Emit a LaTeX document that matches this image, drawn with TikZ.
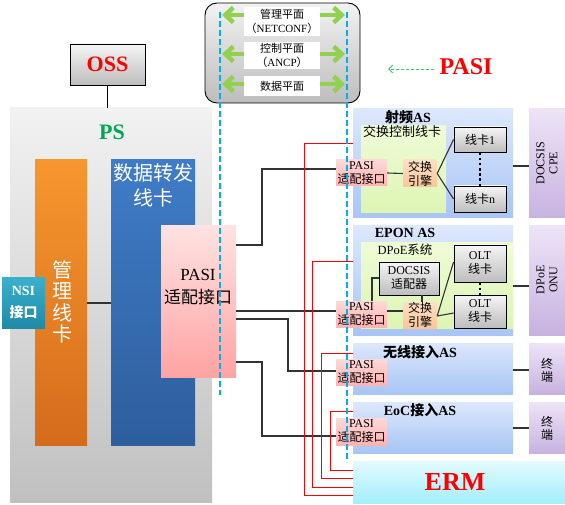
\documentclass[tikz,border=0pt]{standalone}
\usepackage{fontspec}
\setmainfont{Liberation Serif}
\newfontfamily\cjk{Noto Sans CJK SC}
\usetikzlibrary{arrows.meta}
\newcommand\zh[1]{{\cjk #1}}
\newcommand\bx[7]{\node[#2, minimum width={(#5-#3)*1pt}, minimum height={(#6-#4)*1pt}, inner sep=0pt] (#1) at ({(#3+#5)/2},{(#4+#6)/2}) {#7};}
\definecolor{psA}{HTML}{F2F2F2}\definecolor{psB}{HTML}{C0C0C0}
\definecolor{cdA}{HTML}{F5F5F5}\definecolor{cdB}{HTML}{BDBDBD}
\definecolor{orA}{HTML}{F7962E}\definecolor{orB}{HTML}{D46C1C}
\definecolor{blA}{HTML}{3F7CC8}\definecolor{blB}{HTML}{2E5E9C}
\definecolor{tlA}{HTML}{3BB0CE}\definecolor{tlB}{HTML}{1F8AA8}
\definecolor{pkA}{HTML}{FFE2E2}\definecolor{pkB}{HTML}{FFA3A3}
\definecolor{spA}{HTML}{FFD8D8}\definecolor{spB}{HTML}{FFB2B2}
\definecolor{peA}{HTML}{FDE0C6}\definecolor{peB}{HTML}{F9C69A}
\definecolor{asA}{HTML}{DCE8FC}\definecolor{asB}{HTML}{A8C5F5}
\definecolor{grA}{HTML}{EFFBD6}\definecolor{grB}{HTML}{DDF5B4}
\definecolor{puA}{HTML}{EDE4F7}\definecolor{puB}{HTML}{C7B2E0}
\definecolor{emA}{HTML}{E3FBFF}\definecolor{emB}{HTML}{A3EEFB}
\definecolor{garrow}{HTML}{92D050}
\definecolor{cyanl}{HTML}{00B0F0}
\definecolor{psgreen}{HTML}{00A651}
\definecolor{gdashc}{HTML}{33CC66}
\begin{document}
\begin{tikzpicture}[x=1pt,y=-1pt,
  grayb/.style={draw=black, line width=0.9pt, top color=cdA, bottom color=cdB},
  card/.style={draw=black, line width=0.9pt, top color=cdA, bottom color=cdB, align=center, font=\fontsize{12}{14}\selectfont},
  ctrlbox/.style={draw=black, line width=0.9pt, rounded corners=12pt, top color=psA, bottom color=cdB},
  psbox/.style={top color=psA, bottom color=psB},
  orbox/.style={top color=orA, bottom color=orB},
  blbox/.style={top color=blA, bottom color=blB},
  tlbox/.style={top color=tlA, bottom color=tlB, text=white, align=center, font=\fontsize{14}{22}\selectfont},
  bigpink/.style={top color=pkA, bottom color=pkB},
  smallpink/.style={top color=spA, bottom color=spB, align=center, font=\fontsize{12}{14}\selectfont},
  peach/.style={top color=peA, bottom color=peB, align=center, font=\fontsize{12}{14}\selectfont},
  asbox/.style={top color=asA, bottom color=asB},
  greenbox/.style={top color=grA, bottom color=grB},
  purple/.style={top color=puA, bottom color=puB},
  ermbox/.style={top color=emA, bottom color=emB},
  wlab/.style={fill=white, align=center, font=\fontsize{11}{13.5}\selectfont},
  title/.style={inner sep=0pt, font=\fontsize{14}{16}\selectfont\bfseries},
  vtext/.style={rotate=90, align=center, inner sep=0pt, font=\fontsize{12}{13}\selectfont},
  conn/.style={draw=black!80, line width=1.1pt},
  rconn/.style={draw=red, line width=1pt},
  dotline/.style={draw=black, line width=2.6pt, dash pattern=on 2.6pt off 2.6pt},
  garr/.style={draw=garrow, line width=4.5pt, {Straight Barb[length=8pt,width=15pt]}-{Straight Barb[length=8pt,width=15pt]}},
  cdash/.style={draw=cyanl, line width=1.2pt, dash pattern=on 6pt off 3pt}
]
\useasboundingbox (0,0) rectangle (565,505);
% control planes box
\bx{ctrl}{ctrlbox}{205}{3}{360}{103}{}
\draw[garr] (222,15) -- (345,15);
\draw[garr] (222,54) -- (345,54);
\draw[garr] (222,84) -- (345,84);
\bx{mgmt}{wlab}{244}{7}{320}{36}{\zh{管理平面}\\\zh{（}NETCONF\zh{）}}
\bx{ctlp}{wlab}{244}{42}{320}{69}{\zh{控制平面}\\\zh{（}ANCP\zh{）}}
\bx{datp}{wlab}{244}{76}{320}{96}{\zh{数据平面}}
% PASI label
\node[font=\fontsize{24}{26}\selectfont\bfseries, text=red, inner sep=0pt] (pasilbl) at (466,67) {PASI};
\coordinate (pasiend) at (388,69);
\draw[draw=gdashc, line width=0.9pt, dash pattern=on 3pt off 2pt, -{Straight Barb[length=4pt,width=8pt]}] (pasilbl.west |- pasiend) ++(-5,0) -- (pasiend);
% OSS
\bx{oss}{grayb}{70}{44}{145}{85}{\fontsize{22}{24}\selectfont\bfseries\color{red}OSS}
% PS
\bx{ps}{psbox}{10}{108}{212}{502}{}
\draw[draw=black, line width=1.3pt] (oss.south) -- (oss.south |- ps.north);
\node[font=\fontsize{22}{24}\selectfont\bfseries, text=psgreen, inner sep=0pt] (pslbl) at (112,132) {PS};
\bx{mgr}{orbox}{35}{160}{87}{445}{}
\node[text=white, align=center, inner sep=0pt, font=\cjk\fontsize{20}{21.5}\selectfont] (mgrtxt) at (62,302) {管\\理\\线\\卡};
\bx{fwd}{blbox}{111}{160}{195}{445}{}
\node[text=white, align=center, inner sep=0pt, font=\cjk\fontsize{20}{25}\selectfont] (fwdtxt) at (153,185) {数据转发\\线卡};
\bx{nsi}{tlbox}{2}{277}{45}{328}{\textbf{NSI}\\{\cjk\bfseries 接口}}
\draw[conn] (mgr.east |- 0,303) -- (fwd.west |- 0,303);
\bx{bigpasi}{bigpink}{161}{226}{236}{377}{}
\node[align=center, inner sep=0pt, font=\fontsize{17}{23}\selectfont] (bptxt) at (198,287) {PASI\\\zh{适配接口}};
% RF AS
\bx{rf}{asbox}{353}{109}{513}{218}{}
\node[title] (rft) at (408,117) {\zh{\bfseries 射频}AS};
\bx{rfg}{greenbox}{361}{126}{446}{213}{}
\node[inner sep=0pt, font=\cjk\fontsize{13}{14}\selectfont] (rfgt) at (402,132) {交换控制线卡};
\bx{lc1}{card}{454}{127}{506}{152}{\zh{线卡}1}
\bx{lcn}{card}{454}{186}{506}{212}{\zh{线卡}n}
\draw[dotline] (lc1.south) -- (lcn.north);
\bx{sw1}{peach}{403}{160}{437}{187}{\zh{交换}\\\zh{引擎}}
\bx{pasi1}{smallpink}{336}{160}{387}{186}{PASI\\\zh{适配接口}}
\draw[conn] (pasi1.east) -- (sw1.west);
\draw[conn] (sw1.east) -- (lc1.west);
\draw[conn] (sw1.east) -- (lcn.west);
\bx{cpe}{purple}{529}{109}{565}{218}{}
\node[vtext] (cpet) at (547,163) {DOCSIS\\CPE};
\draw[conn] (rf.east |- 0,166) -- (cpe.west |- 0,166);
% EPON AS
\bx{ep}{asbox}{353}{226}{513}{335}{}
\node[title] (ept) at (405,233) {EPON AS};
\bx{epg}{greenbox}{361}{243}{513}{328}{}
\node[inner sep=0pt, font=\fontsize{12.5}{14}\selectfont] (epgt) at (405,250) {DPoE\zh{系统}};
\bx{dad}{card}{379}{262}{439}{295}{DOCSIS\\\zh{适配器}}
\bx{olt1}{card}{454}{245}{506}{282}{OLT\\\zh{线卡}}
\bx{olt2}{card}{454}{295}{506}{328}{OLT\\\zh{线卡}}
\draw[dotline] (olt1.south) -- (olt2.north);
\bx{sw2}{peach}{403}{302}{437}{328}{\zh{交换}\\\zh{引擎}}
\bx{pasi2}{smallpink}{336}{301}{387}{327}{PASI\\\zh{适配接口}}
\draw[conn] (pasi2.east |- 0,311) -- (sw2.west |- 0,311);
\draw[conn] (dad.west |- 0,278) -- (372,278) -- (pasi2.north -| 372,0);
\draw[conn] (dad.south -| 422,0) -- (sw2.north -| 422,0);
\draw[conn] (sw2.east |- 0,316) -- (olt1.west |- 0,262);
\draw[conn] (sw2.east |- 0,316) -- (olt2.west |- 0,313);
\bx{onu}{purple}{529}{226}{565}{335}{}
\node[vtext] (onut) at (547,280) {DPoE\\ONU};
\draw[conn] (ep.east |- 0,286) -- (onu.west |- 0,286);
% wireless AS
\bx{wl}{asbox}{353}{343}{513}{394}{}
\node[title] (wlt) at (420,352) {\zh{\bfseries 无线接入}AS};
\bx{pasi3}{smallpink}{336}{359}{387}{385}{PASI\\\zh{适配接口}}
\bx{term1}{purple}{529}{343}{565}{394}{}
\node[align=center, inner sep=0pt, font=\cjk\fontsize{12}{13}\selectfont] (t1t) at (547,370) {终\\端};
\draw[conn] (wl.east |- 0,370) -- (term1.west |- 0,370);
% EoC AS
\bx{eoc}{asbox}{353}{402}{513}{453}{}
\node[title] (eoct) at (420,410) {EoC\zh{\bfseries 接入}AS};
\bx{pasi4}{smallpink}{336}{418}{387}{445}{PASI\\\zh{适配接口}}
\bx{term2}{purple}{529}{402}{565}{453}{}
\node[align=center, inner sep=0pt, font=\cjk\fontsize{12}{13}\selectfont] (t2t) at (547,428) {终\\端};
\draw[conn] (eoc.east |- 0,428) -- (term2.west |- 0,428);
% ERM
\bx{erm}{ermbox}{353}{461}{565}{503}{}
\node[font=\fontsize{26}{28}\selectfont\bfseries, text=red, inner sep=0pt] (ermt) at (455,482) {ERM};
% black connectors from big PASI
\draw[conn] (bigpasi.east |- 0,245) -- (262,245) |- (pasi1.west |- 0,169);
\draw[conn] (bigpasi.east |- 0,311) -- (pasi2.west |- 0,311);
\draw[conn] (bigpasi.east |- 0,319) -- (288,319) |- (pasi3.west |- 0,371);
\draw[conn] (bigpasi.east |- 0,362) -- (262,362) |- (pasi4.west |- 0,436);
% red connectors to ERM
\draw[rconn] (rf.west |- 0,144) -- (304,144) |- (erm.west |- 0,495);
\draw[rconn] (ep.west |- 0,262) -- (312,262) |- (erm.west |- 0,487);
\draw[rconn] (wl.west |- 0,353) -- (321,353) |- (erm.west |- 0,478);
\draw[rconn] (eoc.west |- 0,411) -- (330,411) |- (erm.west |- 0,470);
% cyan dashed lines
\coordinate (cl1) at (220,12); \coordinate (cl2) at (220,395);
\coordinate (cr1) at (347,12); \coordinate (cr2) at (347,462);
\draw[cdash] (cl1) -- (cl2);
\draw[cdash] (cr1) -- (cr2);
\end{tikzpicture}
\end{document}
